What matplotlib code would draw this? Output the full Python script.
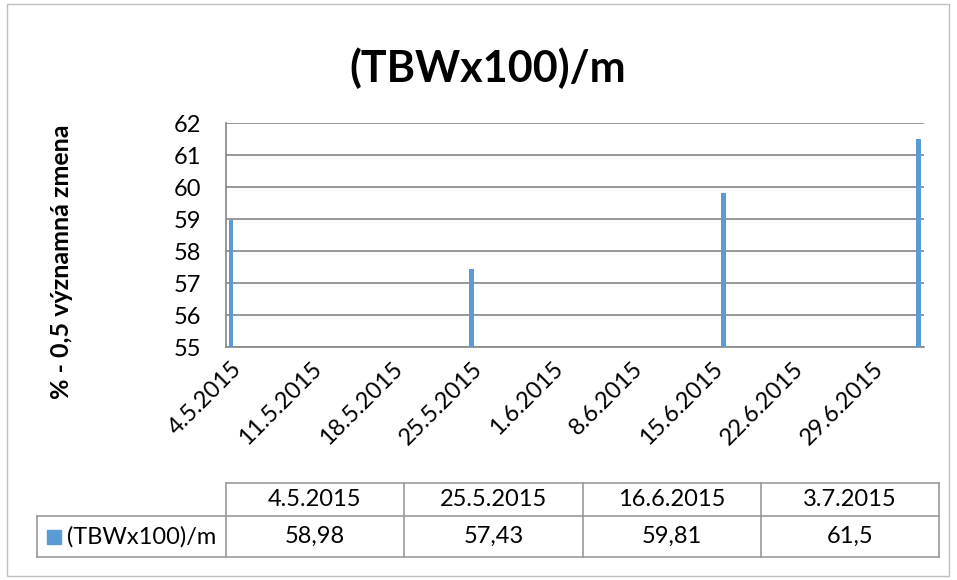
import datetime as dt
import matplotlib
matplotlib.use("Agg")
from matplotlib import pyplot as plt
import matplotlib.dates as mdates
from matplotlib.patches import Rectangle
from matplotlib.lines import Line2D

plt.rcParams['font.family'] = ['Lato', 'DejaVu Sans']

title = "(TBWx100)/m"
ylabel = "% - 0,5 významná zmena"
series_name = "(TBWx100)/m"
dates = [dt.date(2015, 5, 4), dt.date(2015, 5, 25), dt.date(2015, 6, 16), dt.date(2015, 7, 3)]
values = [58.98, 57.43, 59.81, 61.5]
value_labels = ["58,98", "57,43", "59,81", "61,5"]
tick_dates = [dt.date(2015, 5, 4) + dt.timedelta(days=7 * i) for i in range(9)]

blue = "#5B9BD5"
grid = "#868686"
W, H = 957, 580

fig = plt.figure(figsize=(W / 100, H / 100), dpi=100)
fig.patches.append(Rectangle((7 / W, 4 / H), 942 / W, 572 / H, transform=fig.transFigure,
                             fill=False, edgecolor="#BFBFBF", lw=1))

ax = fig.add_axes([226 / W, 1 - 347 / H, 698 / W, 224 / H])
xs = mdates.date2num(dates)
ax.bar(xs, [v - 55 for v in values], bottom=55, width=0.4, color=blue, zorder=3)
ax.set_ylim(55, 62)
ax.set_yticks(range(55, 63))
ax.set_xlim(mdates.date2num(dates[0]) - 0.45, mdates.date2num(dates[-1]) + 0.5)
ax.set_xticks(mdates.date2num(tick_dates))
ax.set_xticklabels([f"{d.day}.{d.month}.{d.year}" for d in tick_dates], rotation=45,
                   ha="right", va="top", rotation_mode="anchor", fontsize=17)
ax.tick_params(axis="both", length=0, labelsize=17)
ax.tick_params(axis="x", pad=8)
ax.tick_params(axis="y", pad=18)
ax.grid(axis="y", color=grid, lw=1.2, zorder=0)
for s in ["top", "right"]:
    ax.spines[s].set_visible(False)
for s in ["left", "bottom"]:
    ax.spines[s].set_color(grid)
    ax.spines[s].set_linewidth(1.2)

fig.text(488 / W, 1 - 68 / H, title, ha="center", va="center", fontsize=31, fontweight="bold")
fig.text(62 / W, 1 - 262 / H, ylabel, ha="center", va="center", rotation=90,
         fontsize=18, fontweight="bold")

# data table below the chart
col_x = [226, 404, 583, 761, 939]
row_y = [483, 516, 557]
lab_x = 37
tc = "#9A9A9A"
def hline(x0, x1, y):
    fig.add_artist(Line2D([x0 / W, x1 / W], [1 - y / H, 1 - y / H], color=tc, lw=1.2))
def vline(x, y0, y1):
    fig.add_artist(Line2D([x / W, x / W], [1 - y0 / H, 1 - y1 / H], color=tc, lw=1.2))

hline(col_x[0], col_x[-1], row_y[0])
hline(lab_x, col_x[-1], row_y[1])
hline(lab_x, col_x[-1], row_y[2])
for x in col_x:
    vline(x, row_y[0], row_y[2])
vline(lab_x, row_y[1], row_y[2])

for i, d in enumerate(dates):
    cx = (col_x[i] + col_x[i + 1]) / 2
    fig.text(cx / W, 1 - (row_y[0] + row_y[1]) / 2 / H, f"{d.day}.{d.month}.{d.year}",
             ha="center", va="center", fontsize=17)
    fig.text(cx / W, 1 - (row_y[1] + row_y[2]) / 2 / H, value_labels[i],
             ha="center", va="center", fontsize=17)

ym = (row_y[1] + row_y[2]) / 2
fig.patches.append(Rectangle((47 / W, 1 - (ym + 7) / H), 14 / W, 14 / H,
                             transform=fig.transFigure, color=blue))
fig.text(67 / W, 1 - ym / H, series_name, ha="left", va="center", fontsize=17)

fig.savefig("out.png", dpi=100)
